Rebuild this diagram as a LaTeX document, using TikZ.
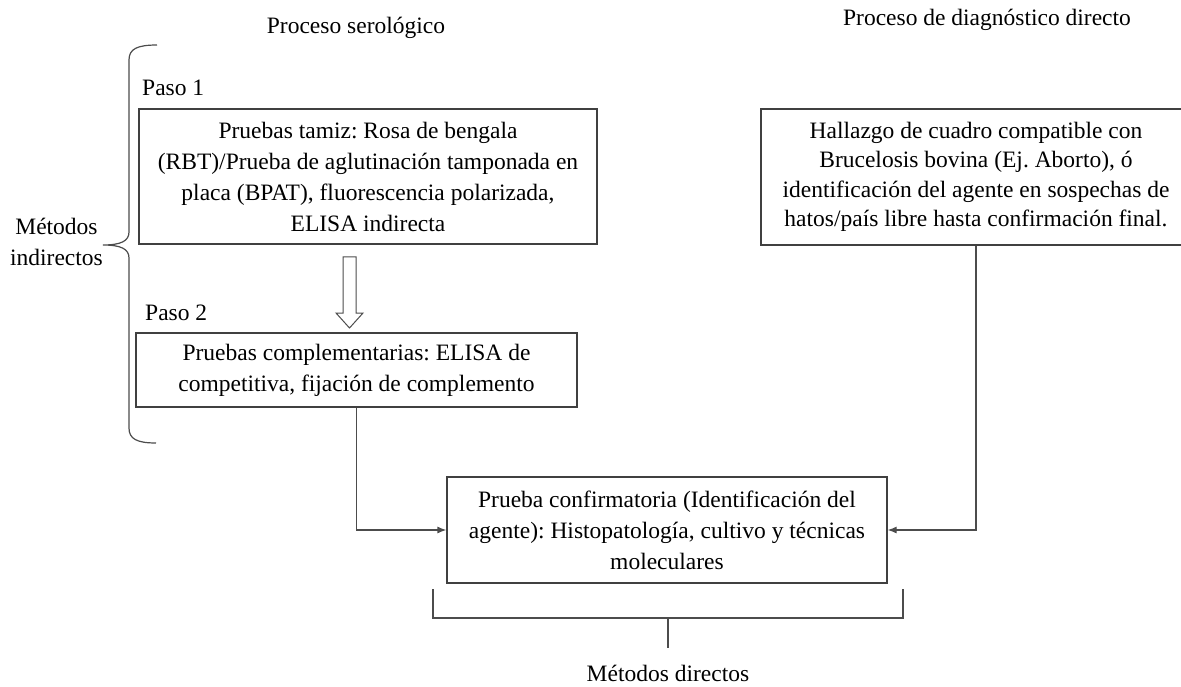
\documentclass[tikz,border=0pt]{standalone}
\usepackage{fontspec}
\setmainfont{Liberation Serif}
\usetikzlibrary{arrows.meta}
\frenchspacing

\begin{document}
\begin{tikzpicture}[x=1pt,y=-1pt,
    every node/.style={inner sep=0pt, font=\fontsize{23.5}{31}\selectfont},
    caja/.style={draw=black!75, line width=1.2pt, align=center},
    linea/.style={draw=black!70, line width=1.2pt},
    flecha/.style={linea, -{Latex[length=9pt,width=7pt]}}]
            \useasboundingbox (0,0) rectangle (1181,687);

            \node (serologico) at (356,28) {Proceso serológico};
            \node (directo) at (987,20) {Proceso de diagnóstico directo};

            \node[anchor=west] (paso1) at (142,88) {Paso 1};
            \node[caja, minimum width=458, minimum height=135] (tamiz) at (368,176.5)
                {Pruebas tamiz: Rosa de bengala\\(RBT)/Prueba de aglutinación tamponada en\\placa (BPAT), fluorescencia polarizada,\\ELISA indirecta};
            \node[anchor=west] (paso2) at (145,313) {Paso 2};
            \node[caja, minimum width=441, minimum height=74] (complementarias) at (356.5,370)
                {Pruebas complementarias: ELISA de\\competitiva, fijación de complemento};
            \node[caja, minimum width=440, minimum height=106] (confirmatoria) at (667,530)
                {Prueba confirmatoria (Identificación del\\agente): Histopatología, cultivo y técnicas\\moleculares};
            \node[caja, minimum width=430, minimum height=136, font=\fontsize{23.5}{29.5}\selectfont] (hallazgo) at (976,177)
                {Hallazgo de cuadro compatible con\\Brucelosis bovina (Ej. Aborto), ó\\identificación del agente en sospechas de\\hatos/país libre hasta confirmación final.};

            \node[align=center] (indirectos) at (56.5,242) {Métodos\\indirectos};
            \node (directos) at (668,673) {Métodos directos};

            \draw[flecha] (complementarias.south) |- (confirmatoria.west);
            \draw[flecha] (hallazgo.south) |- (confirmatoria.east);

            \coordinate (paso) at (349.5,257);
            \draw[linea, line width=1pt] (paso) ++(-6.5,0) -- ++(13,0) -- ++(0,56) -- ++(7,0)
                -- ++(-13.5,15) -- ++(-13.5,-15) -- ++(7,0) -- cycle;

            \draw[linea] (157,45) .. controls (137,45) and (129,49) .. (129,60) -- (129,232)
                .. controls (129,241) and (121,245) .. (103,245)
                .. controls (121,245) and (129,249) .. (129,258) -- (129,428)
                .. controls (129,439) and (137,443) .. (156,443);

            \draw[linea] (433,589) -- (433,618) -- (903,618) -- (903,589);
            \draw[linea] (668,618) -- (668,648);
        \end{tikzpicture}
\end{document}
